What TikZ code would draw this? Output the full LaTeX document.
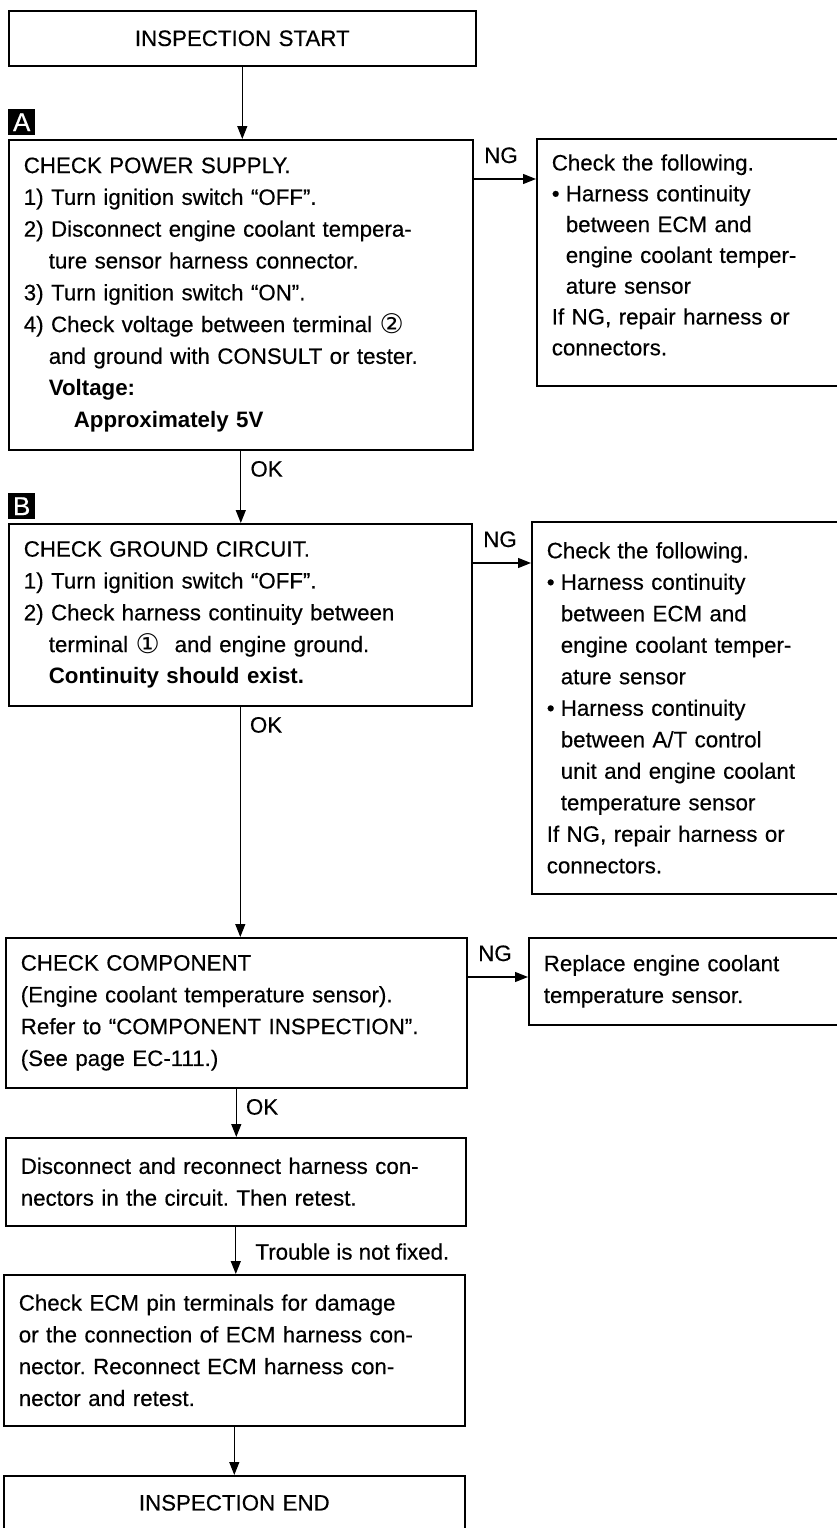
\documentclass[tikz,border=0pt]{standalone}
\usepackage{fontspec}
\setmainfont{Liberation Sans}[UprightFeatures={FakeBold=0.4}]
\newfontfamily\symfont{DejaVu Sans}
\usetikzlibrary{arrows.meta}
\newcommand{\ind}{\hspace*{25pt}}
\newcommand{\bul}{\makebox[14pt][l]{\textbullet}}
\newcommand{\sub}{\hspace*{14pt}}
\newcommand{\term}[1]{\raisebox{-1pt}{\symfont\fontsize{27}{27}\selectfont #1}}
\frenchspacing

\begin{document}
\begin{tikzpicture}[x=1pt,y=-1pt,every node/.style={font=\fontsize{22.3}{31.8}\selectfont},box/.style 2 args={rectangle,draw,line width=1.6pt,anchor=north west,align=left,inner xsep=15pt,inner ysep=0pt,minimum width=#1,text width=#1-30pt,minimum height=#2},steptag/.style={rectangle,fill=black,text=white,anchor=north west,inner sep=0pt,minimum width=27pt,minimum height=26pt,font=\fontsize{26}{26}\selectfont},flow/.style={line width=1.3pt,-{Triangle[length=13pt,width=10pt]}},okl/.style={pos=0,anchor=base west,inner sep=0pt,xshift=9pt,yshift=-26pt},ngl/.style={pos=0,anchor=base west,inner sep=0pt,xshift=10pt,yshift=16pt}]
        \clip (0,0) rectangle (837,1528);
        % main column
        \node[box={467pt}{55pt},align=center] (start) at (8,10) {INSPECTION START};
        \node[steptag] (tagA) at (8,109) {A};
        \node[box={464pt}{310pt}] (chkA) at (8,139) {CHECK POWER SUPPLY.\\
            1) Turn ignition switch ``OFF''.\\
            2) Disconnect engine coolant tempera-\\
            \ind ture sensor harness connector.\\
            3) Turn ignition switch ``ON''.\\
            4) Check voltage between terminal~\term{②}\\
            \ind and ground with CONSULT or tester.\\
            \ind\textbf{Voltage:}\\
            \ind\ind\textbf{Approximately 5V}};
        \node[steptag] (tagB) at (8,493) {B};
        \node[box={463pt}{182pt}] (gnd) at (8,523) {CHECK GROUND CIRCUIT.\\
            1) Turn ignition switch ``OFF''.\\
            2) Check harness continuity between\\
            \ind terminal~\term{①}~ and engine ground.\\
            \ind\textbf{Continuity should exist.}};
        \node[box={461pt}{150pt}] (comp) at (5,937) {CHECK COMPONENT\\
            (Engine coolant temperature sensor).\\
            Refer to ``COMPONENT INSPECTION''.\\
            (See page EC-111.)};
        \node[box={460pt}{88pt}] (reseat) at (5,1137) {Disconnect and reconnect harness con-\\
            nectors in the circuit. Then retest.};
        \node[box={461pt}{151pt}] (ecmpin) at (3,1274) {Check ECM pin terminals for damage\\
            or the connection of ECM harness con-\\
            nector. Reconnect ECM harness con-\\
            nector and retest.};
        \node[box={461pt}{54pt},align=center] (finish) at (3,1475) {INSPECTION END};
        % NG column
        \node[box={314pt}{247pt},font=\fontsize{22.3}{30.8}\selectfont] (fixA) at (536,138) {Check the following.\\
            \bul Harness continuity\\
            \sub between ECM and\\
            \sub engine coolant temper-\\
            \sub ature sensor\\
            If NG, repair harness or\\
            connectors.\rule[-15pt]{0pt}{15pt}};
        \node[box={319pt}{372pt},font=\fontsize{22.3}{31.5}\selectfont] (fixB) at (531,521) {Check the following.\\
            \bul Harness continuity\\
            \sub between ECM and\\
            \sub engine coolant temper-\\
            \sub ature sensor\\
            \bul Harness continuity\\
            \sub between A/T control\\
            \sub unit and engine coolant\\
            \sub temperature sensor\\
            If NG, repair harness or\\
            connectors.};
        \node[box={322pt}{87pt}] (swap) at (528,937) {Replace engine coolant\\
            temperature sensor.};
        % connectors
        \path (chkA.north east) ++(0,40) coordinate (ngA);
        \path (gnd.north east) ++(0,40) coordinate (ngB);
        \path (comp.north east) ++(0,40) coordinate (ngC);
        \draw[flow] (start.south) -- (start.south |- chkA.north);
        \draw[flow] (chkA.south) -- node[okl] {OK} (chkA.south |- gnd.north);
        \draw[flow] (gnd.south) -- node[okl] {OK} (gnd.south |- comp.north);
        \draw[flow] (comp.south) -- node[okl] {OK} (comp.south |- reseat.north);
        \draw[flow] (reseat.south) -- node[okl,xshift=10pt,yshift=-7pt] {Trouble is not fixed.} (reseat.south |- ecmpin.north);
        \draw[flow] (ecmpin.south) -- (ecmpin.south |- finish.north);
        \draw[flow] (ngA) -- node[ngl] {NG} (ngA -| fixA.west);
        \draw[flow] (ngB) -- node[ngl] {NG} (ngB -| fixB.west);
        \draw[flow] (ngC) -- node[ngl] {NG} (ngC -| swap.west);
\end{tikzpicture}
\end{document}
